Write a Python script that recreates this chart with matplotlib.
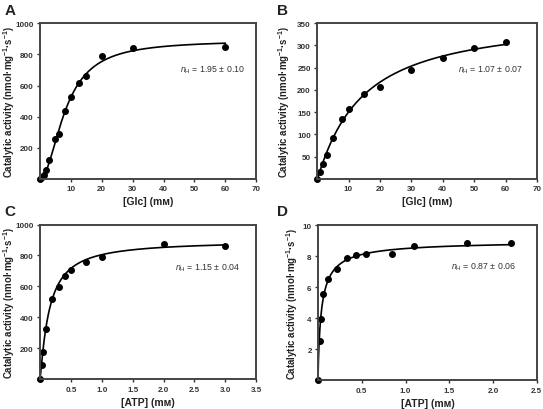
import numpy as np
import matplotlib
matplotlib.use('Agg')
from matplotlib import pyplot as plt

plt.rcParams['font.family'] = ['Liberation Sans', 'DejaVu Sans']
plt.rcParams['mathtext.fontset'] = 'custom'
plt.rcParams['mathtext.rm'] = 'Liberation Sans'
plt.rcParams['mathtext.it'] = 'Liberation Sans:italic'
plt.rcParams['mathtext.bf'] = 'Liberation Sans:bold'

# panel A - glucose, data points
glc_a = [0, 0.7, 1.3, 2, 3, 5, 6, 8, 10, 12.5, 15, 20, 30, 60]
act_a = [0, 10, 26, 60, 120, 258, 288, 437, 529, 613, 662, 791, 841, 850]
# panel B
glc_b = [0, 1, 2, 3, 5, 8, 10, 15, 20, 30, 40, 50, 60]
act_b = [0, 15, 33, 53, 92, 134, 157, 192, 206, 245, 271, 295, 307]
# panel C - ATP
atp_c = [0, 0.025, 0.05, 0.1, 0.2, 0.3, 0.4, 0.5, 0.75, 1.0, 2.0, 3.0]
act_c = [0, 95, 175, 325, 520, 597, 668, 705, 755, 793, 875, 863]
# panel D
atp_d = [0, 0.019, 0.038, 0.057, 0.114, 0.22, 0.33, 0.44, 0.55, 0.84, 1.10, 1.70, 2.2]
act_d = [0, 2.56, 3.94, 5.56, 6.55, 7.16, 7.87, 8.06, 8.15, 8.15, 8.66, 8.86, 8.86]

# Hill fit parameters (Vmax, K, nH)
fit_a = (890, 8.3, 1.95)
fit_b = (366, 14.0, 1.07)
fit_c = (896, 0.15, 1.15)
fit_d = (9.02, 0.04, 0.87)

labels_nh = ['1.95 \u00b1 0.10', '1.07 \u00b1 0.07', '1.15 \u00b1 0.04', '0.87 \u00b1 0.06']

def hill(x, vmax, k, n):
    return vmax * x**n / (k**n + x**n)

fig = plt.figure(figsize=(5.43, 4.10), dpi=100)

panels = [
    ('A', [0.0737, 0.561, 0.398, 0.380], glc_a, act_a, fit_a, 70, 1000,
     np.arange(10, 71, 10), np.arange(200, 1001, 200), '[Glc] (m\u1d0d)', (0.65, 0.69), -0.105),
    ('B', [0.584, 0.561, 0.405, 0.380], glc_b, act_b, fit_b, 70, 350,
     np.arange(10, 71, 10), np.arange(50, 351, 50), '[Glc] (m\u1d0d)', (0.64, 0.69), -0.113),
    ('C', [0.0737, 0.072, 0.398, 0.378], atp_c, act_c, fit_c, 3.5, 1000,
     np.arange(0.5, 3.51, 0.5), np.arange(200, 1001, 200), '[ATP] (m\u1d0d)', (0.625, 0.71), -0.105),
    ('D', [0.5856, 0.070, 0.403, 0.378], atp_d, act_d, fit_d, 2.5, 10,
     np.arange(0.5, 2.51, 0.5), np.arange(2, 11, 2), '[ATP] (m\u1d0d)', (0.61, 0.72), -0.08),
]

for i, (letter, pos, x, y, fit, xmax, ymax, xt, yt, xlab, tpos, ylx) in enumerate(panels):
    ax = fig.add_axes(pos)
    xx = np.linspace(0, max(x), 400)
    ax.plot(xx, hill(xx, *fit), color='black', linewidth=1.2)
    ax.plot(x, y, 'o', color='black', markersize=4, clip_on=False)
    ax.set_xlim(0, xmax)
    ax.set_ylim(0, ymax)
    ax.set_xticks(xt)
    ax.set_yticks(yt)
    if xmax < 5:
        ax.set_xticklabels(['%.1f' % v for v in xt])
    for lab in ax.get_xticklabels() + ax.get_yticklabels():
        lab.set_fontweight('bold')
    ax.tick_params(labelsize=5.8, length=2, width=1, pad=2.5, colors='#333333')
    for s in ax.spines.values():
        s.set_linewidth(1.4)
        s.set_color('#444444')
    ax.set_xlabel(xlab, fontsize=7.5, fontweight='bold', labelpad=3, color='#222222')
    ax.set_ylabel('Catalytic activity (nmol\u00b7mg$^{\\mathbf{-1}}$\u00b7s$^{\\mathbf{-1}}$)',
                  fontsize=6.9, fontweight='bold', color='#222222')
    ax.yaxis.set_label_coords(ylx, 0.5)
    ax.text(tpos[0], tpos[1], '$n_{\\mathrm{H}}$ = ' + labels_nh[i], transform=ax.transAxes,
            fontsize=6.3, color='#333333')
    fx = 0.008 if pos[0] < 0.5 else 0.51
    fy = 0.99 if pos[1] > 0.5 else 0.50
    fig.text(fx, fy, letter, fontsize=11, fontweight='bold', va='top', color='#222222')

plt.savefig('out.png', dpi=100)
